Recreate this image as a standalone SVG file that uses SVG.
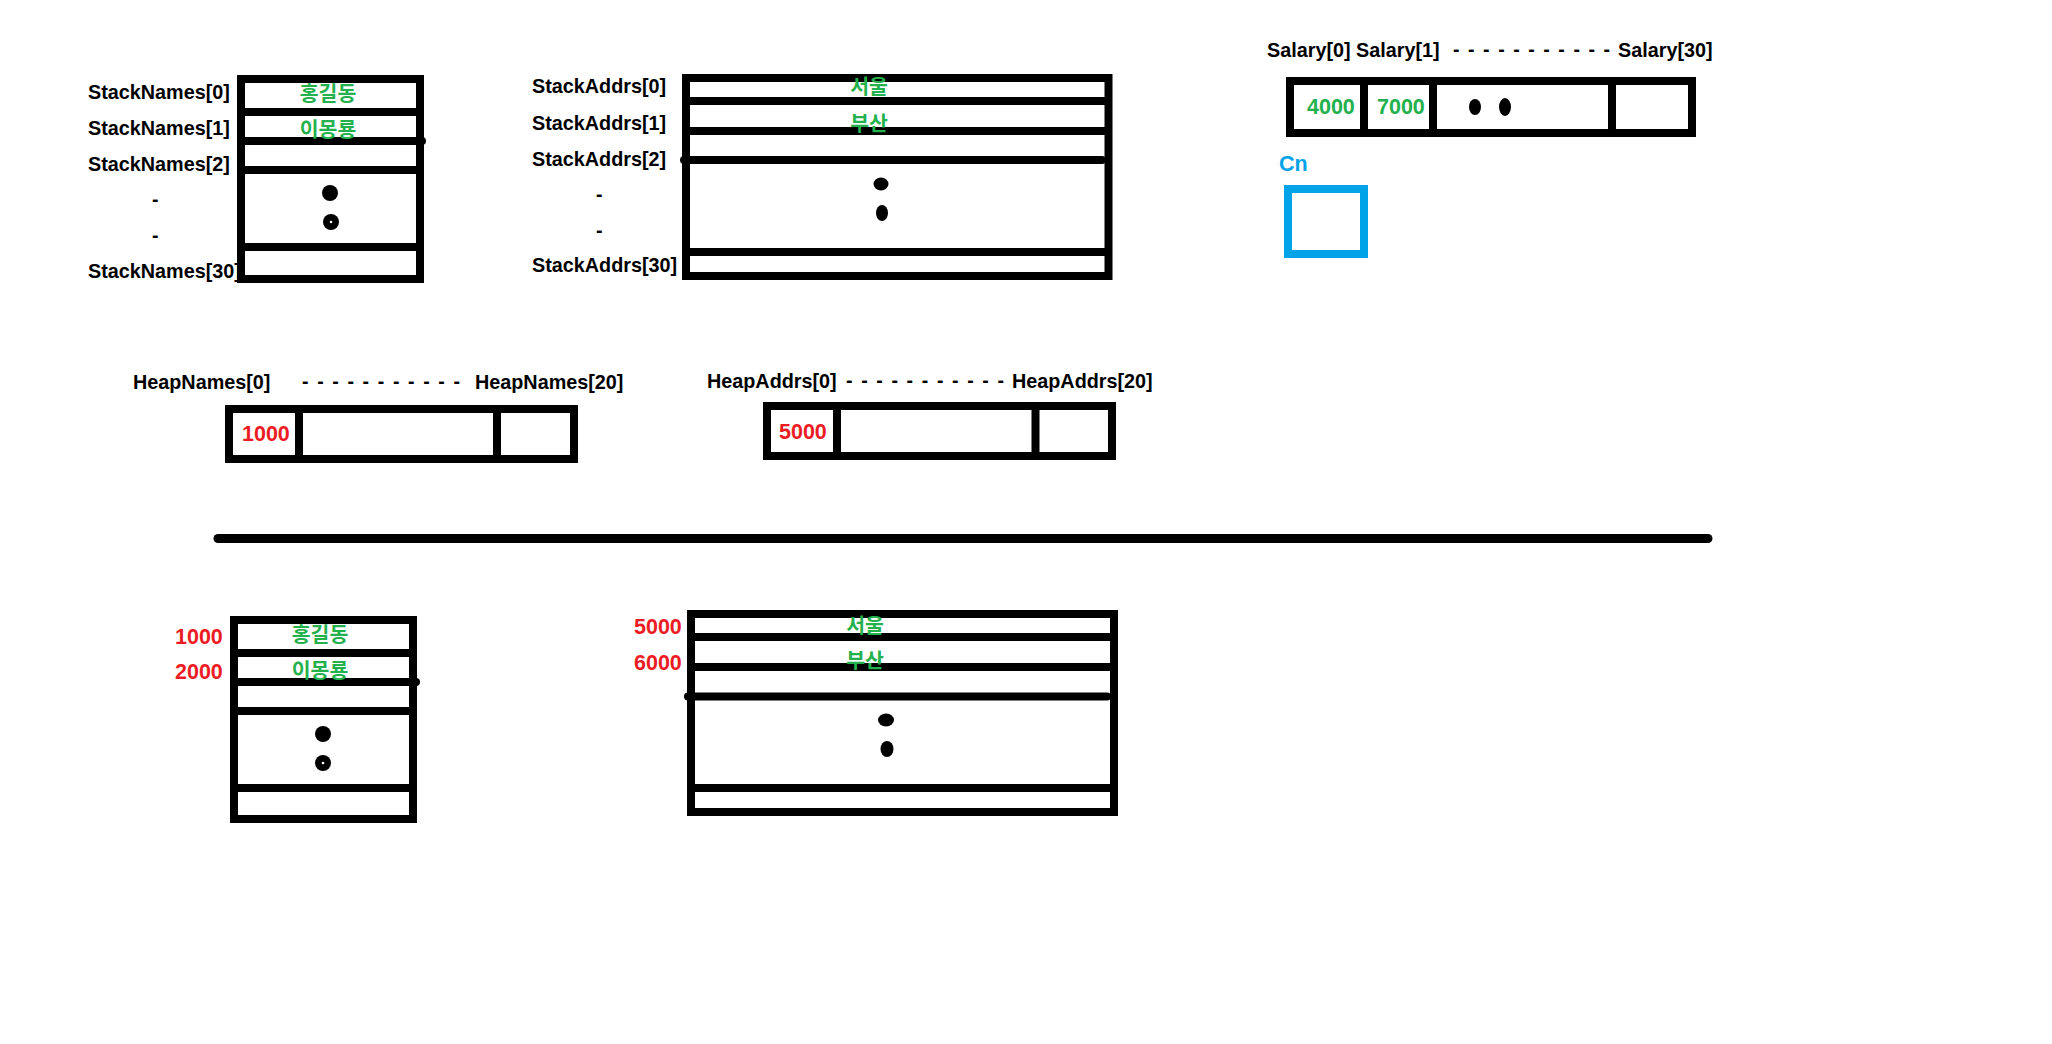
<svg xmlns="http://www.w3.org/2000/svg" width="2052" height="1044" viewBox="0 0 2052 1044">
  <style>
    .box { fill: none; stroke: #000; stroke-width: 8; }
    .ln { stroke: #000; stroke-width: 8; stroke-linecap: butt; }
    .rl { stroke: #000; stroke-width: 8; stroke-linecap: round; }
    .lbl { font-family: "Liberation Sans", Arial, sans-serif; font-weight: bold; font-size: 19.8px; fill: #000; }
    .num { font-family: "Liberation Sans", Arial, sans-serif; font-weight: bold; font-size: 21.5px; }
    .red { fill: #ed1c24; }
    .grn { fill: #22b14c; }
    .ko { font-family: "Noto Sans CJK KR", "Noto Sans CJK SC", sans-serif; font-weight: bold; font-size: 20.5px; fill: #22b14c; text-anchor: middle; }
    .dash { font-family: "Liberation Sans", Arial, sans-serif; font-weight: bold; font-size: 19.5px; fill: #000; }
    .dot { fill: #000; }
  </style>

  <rect width="2052" height="1044" fill="#fff"/>

  <!-- Stack names array (vertical) -->
  <g id="stack-names">
    <rect class="box" x="241" y="79" width="179" height="200"/>
    <line class="ln" x1="241" y1="112" x2="420" y2="112"/>
    <line class="rl" x1="241" y1="141" x2="422" y2="141"/>
    <line class="ln" x1="241" y1="170" x2="420" y2="170"/>
    <line class="ln" x1="241" y1="247" x2="420" y2="247"/>
    <circle class="dot" cx="330" cy="193" r="8"/>
    <circle class="dot" cx="331" cy="222" r="8"/>
    <circle cx="331" cy="222" r="1.3" fill="#fff"/>
    <text class="ko" x="328" y="101">홍길동</text>
    <text class="ko" x="328" y="137">이몽룡</text>
    <text class="lbl" x="88" y="99">StackNames[0]</text>
    <text class="lbl" x="88" y="135">StackNames[1]</text>
    <text class="lbl" x="88" y="171">StackNames[2]</text>
    <text class="dash" x="152" y="206">-</text>
    <text class="dash" x="152" y="242">-</text>
    <text class="lbl" x="88" y="278">StackNames[30]</text>
  </g>

  <!-- Stack addresses array (vertical) -->
  <g id="stack-addrs">
    <rect class="box" x="686" y="78" width="422.5" height="198"/>
    <line class="ln" x1="686" y1="101" x2="1108.5" y2="101"/>
    <line class="ln" x1="686" y1="131" x2="1105" y2="131"/>
    <line class="rl" x1="684" y1="160" x2="1102" y2="160"/>
    <line class="ln" x1="686" y1="252" x2="1108.5" y2="252"/>
    <ellipse class="dot" cx="881" cy="184" rx="7.5" ry="6.5"/>
    <ellipse class="dot" cx="882" cy="213" rx="6" ry="8"/>
    <text class="ko" x="869" y="94">서울</text>
    <text class="ko" x="869" y="131">부산</text>
    <text class="lbl" x="532" y="93">StackAddrs[0]</text>
    <text class="lbl" x="532" y="130">StackAddrs[1]</text>
    <text class="lbl" x="532" y="166">StackAddrs[2]</text>
    <text class="dash" x="596" y="201">-</text>
    <text class="dash" x="596" y="237">-</text>
    <text class="lbl" x="532" y="272">StackAddrs[30]</text>
  </g>

  <!-- Salary array (horizontal) -->
  <g id="salary">
    <text class="lbl" x="1267" y="57">Salary[0]</text>
    <text class="lbl" x="1356" y="57">Salary[1]</text>
    <text class="dash" x="1453" y="56" textLength="157" lengthAdjust="spacing">- - - - - - - - - - -</text>
    <text class="lbl" x="1618" y="57">Salary[30]</text>
    <rect class="box" x="1290" y="81" width="402" height="52"/>
    <line class="ln" x1="1364" y1="81" x2="1364" y2="133"/>
    <line class="ln" x1="1433" y1="81" x2="1433" y2="133"/>
    <line class="ln" x1="1612" y1="81" x2="1612" y2="133"/>
    <text class="num grn" x="1307" y="114">4000</text>
    <text class="num grn" x="1377" y="114">7000</text>
    <ellipse class="dot" cx="1475" cy="107" rx="6" ry="8"/>
    <ellipse class="dot" cx="1505" cy="107" rx="6" ry="9"/>
  </g>

  <!-- Cn variable -->
  <g id="cn">
    <text class="num" x="1279" y="171" fill="#00a2e8">Cn</text>
    <rect x="1288" y="189" width="76" height="65" fill="none" stroke="#00a2e8" stroke-width="8"/>
  </g>

  <!-- Heap names reference array -->
  <g id="heap-names">
    <text class="lbl" x="133" y="389">HeapNames[0]</text>
    <text class="dash" x="302" y="388" textLength="158" lengthAdjust="spacing">- - - - - - - - - - -</text>
    <text class="lbl" x="475" y="389">HeapNames[20]</text>
    <rect class="box" x="229" y="409" width="345" height="50"/>
    <line class="ln" x1="299" y1="409" x2="299" y2="459"/>
    <line class="ln" x1="497" y1="409" x2="497" y2="459"/>
    <text class="num red" x="242" y="441">1000</text>
  </g>

  <!-- Heap addresses reference array -->
  <g id="heap-addrs">
    <text class="lbl" x="707" y="388">HeapAddrs[0]</text>
    <text class="dash" x="846" y="387" textLength="158" lengthAdjust="spacing">- - - - - - - - - - -</text>
    <text class="lbl" x="1012" y="388">HeapAddrs[20]</text>
    <rect class="box" x="767" y="406" width="345" height="50"/>
    <line class="ln" x1="837" y1="406" x2="837" y2="456"/>
    <line class="ln" x1="1035.5" y1="406" x2="1035.5" y2="456"/>
    <text class="num red" x="779" y="439">5000</text>
  </g>

  <!-- Stack / heap divider -->
  <g id="divider">
    <line x1="218" y1="538.5" x2="1708" y2="538.5" stroke="#000" stroke-width="9" stroke-linecap="round"/>
  </g>

  <!-- Heap block: names -->
  <g id="heap-name-block">
    <rect class="box" x="234" y="620" width="179" height="199"/>
    <line class="ln" x1="230" y1="653" x2="413" y2="653"/>
    <line class="rl" x1="234" y1="682" x2="416" y2="682"/>
    <line class="ln" x1="234" y1="711" x2="413" y2="711"/>
    <line class="ln" x1="234" y1="788" x2="413" y2="788"/>
    <circle class="dot" cx="323" cy="734" r="8"/>
    <circle class="dot" cx="323" cy="763" r="8"/>
    <circle cx="323" cy="763" r="1.3" fill="#fff"/>
    <text class="ko" x="320" y="642">홍길동</text>
    <text class="ko" x="320" y="678">이몽룡</text>
    <text class="num red" x="175" y="644">1000</text>
    <text class="num red" x="175" y="679">2000</text>
  </g>

  <!-- Heap block: addresses -->
  <g id="heap-addr-block">
    <rect class="box" x="691" y="614" width="423" height="198"/>
    <line class="ln" x1="691" y1="637" x2="1114" y2="637"/>
    <line class="ln" x1="691" y1="667" x2="1110" y2="667"/>
    <line class="rl" x1="688" y1="696.5" x2="1107" y2="696.5"/>
    <line class="ln" x1="691" y1="788" x2="1112" y2="788"/>
    <ellipse class="dot" cx="886" cy="720" rx="8" ry="6.5"/>
    <ellipse class="dot" cx="887" cy="749" rx="6.5" ry="8"/>
    <text class="ko" x="865" y="633">서울</text>
    <text class="ko" x="865" y="668">부산</text>
    <text class="num red" x="634" y="634">5000</text>
    <text class="num red" x="634" y="670">6000</text>
  </g>
</svg>
